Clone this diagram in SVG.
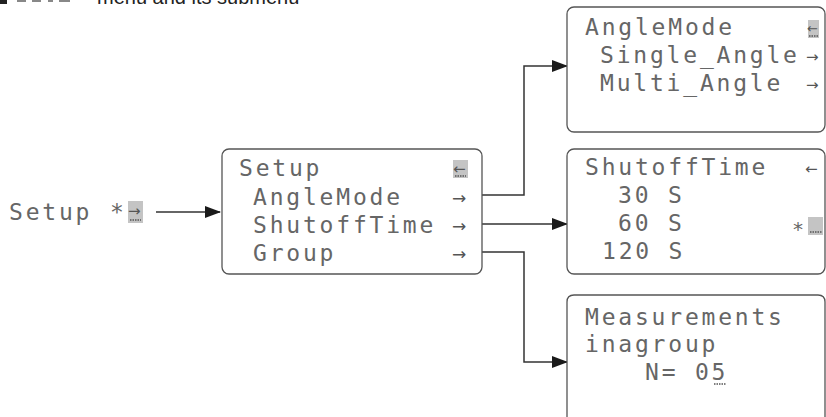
<svg xmlns="http://www.w3.org/2000/svg" width="826" height="417" viewBox="0 0 826 417">
<defs>
<marker id="ah" markerWidth="16" markerHeight="12" refX="15" refY="6" orient="auto" markerUnits="userSpaceOnUse">
<path d="M0,0 L16,6 L0,12 Z" fill="#1a1a1a"/>
</marker>
</defs>
<style>
.lcd{font-family:"DejaVu Sans Mono","Liberation Mono",monospace;font-size:23px;letter-spacing:2.8px;fill:#666}
.ar{font-family:"DejaVu Sans","Liberation Sans",sans-serif;font-size:17px;fill:#555}
.box{fill:#fff;stroke:#555;stroke-width:1.3}
.hl{fill:#c4c4c4}
.ul{stroke:#555;stroke-width:1.5;stroke-dasharray:1.5 1}
.cn{fill:none;stroke:#333;stroke-width:1.5}
.cap{font-family:"Liberation Sans",Arial,sans-serif;font-size:20px;fill:#222}
</style>
<rect x="0" y="0" width="7" height="4" fill="#222"/>
<rect x="17" y="0" width="9" height="2" fill="#888"/>
<rect x="32" y="0" width="9" height="2" fill="#888"/>
<rect x="48" y="0" width="5" height="2" fill="#888"/>
<rect x="59" y="0" width="11" height="2" fill="#888"/>
<text class="cap" x="97" y="4">menu and its submenu</text>

<g id="setup-entry">
<text class="lcd" x="9" y="220">Setup</text>
<text class="lcd" x="110" y="220">*</text>
<rect class="hl" x="128" y="201" width="15" height="22"/>
<text class="ar" x="128" y="216" style="font-size:15px">→</text>
<line class="ul" x1="130" y1="220" x2="141" y2="220"/>
</g>

<g id="connectors">
<path class="cn" d="M156,212 H220" marker-end="url(#ah)"/>
<path class="cn" d="M482,195 H524 V66 H567" marker-end="url(#ah)"/>
<path class="cn" d="M482,224 H567" marker-end="url(#ah)"/>
<path class="cn" d="M482,252 H524 V362 H567" marker-end="url(#ah)"/>
</g>

<g id="setup-menu">
<rect class="box" x="222" y="149" width="260" height="125" rx="7"/>
<text class="lcd" x="239" y="176">Setup</text>
<rect class="hl" x="453" y="160" width="15" height="18"/>
<text class="ar" x="453" y="174" style="font-size:15px">←</text>
<line class="ul" x1="455" y1="176" x2="466" y2="176"/>
<text class="lcd" x="253" y="205">AngleMode</text>
<text class="ar" x="452" y="204">→</text>
<text class="lcd" x="253" y="233">ShutoffTime</text>
<text class="ar" x="452" y="232">→</text>
<text class="lcd" x="253" y="261">Group</text>
<text class="ar" x="452" y="260">→</text>
</g>

<g id="anglemode-menu">
<rect class="box" x="567" y="7" width="258" height="125" rx="7"/>
<text class="lcd" x="585" y="35">AngleMode</text>
<rect class="hl" x="808" y="20" width="11" height="18"/>
<text class="ar" x="807" y="33" style="font-size:13px">←</text>
<line class="ul" x1="809" y1="36" x2="818" y2="36"/>
<text class="lcd" x="600" y="63">Single_Angle</text>
<text class="ar" x="806" y="62" style="font-size:15px">→</text>
<text class="lcd" x="600" y="91">Multi_Angle</text>
<text class="ar" x="806" y="90" style="font-size:15px">→</text>
</g>

<g id="shutoff-menu">
<rect class="box" x="567" y="149" width="258" height="125" rx="7"/>
<text class="lcd" x="585" y="175">ShutoffTime</text>
<text class="ar" x="805" y="174" style="font-size:15px">←</text>
<text class="lcd" x="618" y="203">30 S</text>
<text class="lcd" x="618" y="231">60 S</text>
<text class="lcd" x="602" y="259">120 S</text>
<text class="lcd" x="792" y="236" style="font-size:20px">*</text>
<rect class="hl" x="808" y="217" width="15" height="18"/>
<line class="ul" x1="810" y1="232" x2="822" y2="232"/>
</g>

<g id="group-menu">
<path class="box" d="M567,417 V302 Q567,295 574,295 H818 Q825,295 825,302 V417"/>
<text class="lcd" x="585" y="325">Measurements</text>
<text class="lcd" x="585" y="352">inagroup</text>
<text class="lcd" x="645" y="380">N= 05</text>
<line class="ul" x1="714" y1="384" x2="726" y2="384"/>
</g>
</svg>
